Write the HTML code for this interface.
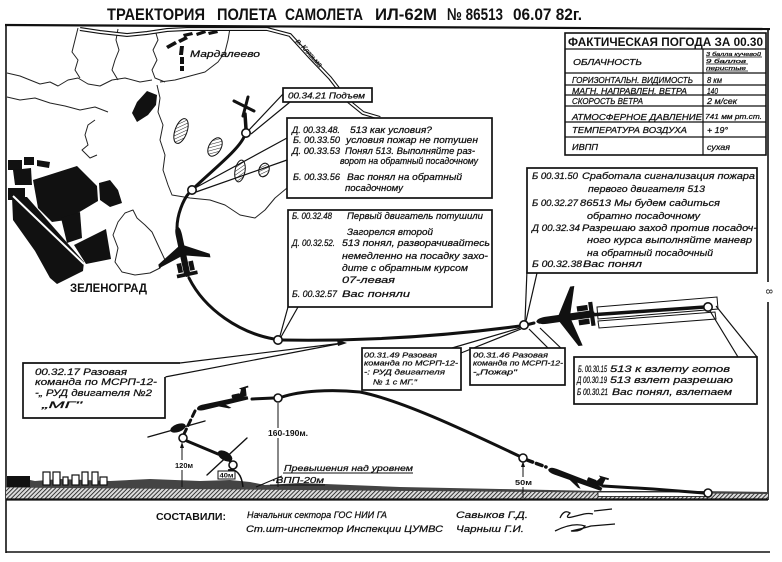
<!DOCTYPE html>
<html><head><meta charset="utf-8"><title>Траектория полета самолета ИЛ-62М</title>
<style>
html,body{margin:0;padding:0;background:#fff;width:782px;height:562px;overflow:hidden}
svg{display:block}
text{font-family:"Liberation Sans","DejaVu Sans",sans-serif;fill:#111}
.i{font-style:italic;stroke:#111;stroke-width:0.25}
.b{font-weight:bold}
</style></head><body>
<svg xmlns="http://www.w3.org/2000/svg" width="782" height="562" viewBox="0 0 782 562">
<defs>
<pattern id="hg" width="3" height="3" patternUnits="userSpaceOnUse" patternTransform="rotate(45)"><rect width="3" height="3" fill="#ddd"/><line x1="0" y1="0" x2="0" y2="3" stroke="#1a1a1a" stroke-width="1.7"/></pattern>
<pattern id="hs" width="3" height="3" patternUnits="userSpaceOnUse" patternTransform="rotate(45)"><rect width="3" height="3" fill="#fff"/><line x1="0" y1="0" x2="0" y2="3" stroke="#222" stroke-width="1"/></pattern>
<g id="ptop" fill="#111">
 <path d="M0,-25 C2.5,-24 3,-20 3,-16 L3,20 L1.5,24 L-1.5,24 L-3,20 L-3,-16 C-3,-20 -2.5,-24 0,-25Z"/>
 <path d="M-2.5,-6 L-25,7 L-25,10.5 L-2.5,4 L2.5,4 L25,10.5 L25,7 L2.5,-6Z"/>
 <rect x="-8" y="10" width="4.5" height="9"/><rect x="3.5" y="10" width="4.5" height="9"/>
 <path d="M-10,20 L10,20 L10,23.5 L-10,23.5Z"/>
</g>
<g id="pside" fill="#111">
 <path d="M-30,0 C-29,-3 -26,-3.5 -22,-3.5 L24,-3.5 L30,-2 L30,1.5 L-22,3 C-27,3 -30,2 -30,0Z"/>
 <path d="M20,-3 L25,-13 L30,-13 L29,-3Z"/>
 <path d="M22,-13 L33,-14 L33,-12 L24,-11.5Z"/>
 <rect x="12" y="-7.5" width="10" height="4.5" rx="1.5"/>
 <path d="M-6,2 L6,7 L9,7 L2,1Z"/>
</g>
</defs>
<rect width="782" height="562" fill="#fff"/>

<!-- Title -->
<g class="b" font-size="17">
<text x="107" y="20" textLength="98" lengthAdjust="spacingAndGlyphs">ТРАЕКТОРИЯ</text>
<text x="217" y="20" textLength="60" lengthAdjust="spacingAndGlyphs">ПОЛЕТА</text>
<text x="285" y="20" textLength="78" lengthAdjust="spacingAndGlyphs">САМОЛЕТА</text>
<text x="375" y="20" textLength="62" lengthAdjust="spacingAndGlyphs">ИЛ-62М</text>
<text x="447" y="20" textLength="56" lengthAdjust="spacingAndGlyphs">№ 86513</text>
<text x="513" y="20" textLength="69" lengthAdjust="spacingAndGlyphs">06.07 82г.</text>
</g>

<!-- Frame -->
<g stroke="#111" fill="none">
<line x1="5" y1="25" x2="770" y2="29" stroke-width="2.2"/>
<line x1="6" y1="25" x2="6" y2="553" stroke-width="1.6"/>
<line x1="768" y1="29" x2="768" y2="282" stroke-width="1.6"/>
<line x1="768" y1="302" x2="768" y2="500" stroke-width="1.6"/>
<line x1="6" y1="552" x2="770" y2="552" stroke-width="1.6"/>
</g>
<text x="760" y="289" font-size="9" transform="rotate(90 763 292)">8</text>

<!-- Map boundaries -->
<g stroke="#222" stroke-width="1" fill="none" stroke-linejoin="round">
<polyline points="78,28 75,40 72,52 78,60 75,70 80,78"/>
<polyline points="7,73 20,76 30,80 40,84 50,82 58,86 68,80 78,78 88,84 100,86 112,80 125,78 140,82 152,80"/>
<polyline points="118,29 116,40 119,50 115,60 112,70 118,80"/>
<polyline points="155,30 158,40 153,50 157,60 152,70 155,78 165,82"/>
<polyline points="230,28 228,40 225,52 218,62 205,72 190,76 175,80 160,82"/>
<polyline points="7,97 20,100 35,98 50,103 65,106 80,110 95,107 108,112"/>
<polyline points="95,120 88,125 85,135 88,145 82,150 90,158 97,155"/>
<polyline points="157,85 160,98 158,112 163,125 160,140 165,155 163,170 168,185 172,195 190,198 210,200 225,205 240,215 255,218 265,210 275,198 287,188"/>
<polygon points="125,213 133,210 137,218 145,225 152,232 158,245 165,260 160,268 150,273 135,275 122,272 115,262 118,248 113,235 118,222"/>
</g>

<!-- River -->
<path d="M80,29 L100,32 L127,35 L147,33 L167,30 L187,29 L233,29 L267,29 L290,35 L310,57 L330,78 L347,100 L363,113 L380,118" fill="none" stroke="#111" stroke-width="4"/>
<path d="M80,29 L100,32 L127,35 L147,33 L167,30 L187,29 L233,29 L267,29 L290,35 L310,57 L330,78 L347,100 L363,113 L380,118" fill="none" stroke="#fff" stroke-width="1.8"/>
<text class="i" x="285" y="50" font-size="7" transform="rotate(48 300 58)">р. Клязьма</text>

<!-- Mardalevo -->
<g fill="#111">
<polygon points="166,46 175,41 177,44 168,49"/>
<polygon points="178,40 186,36 188,39 180,43"/>
<polygon points="183,34 192,32 193,35 184,37"/>
<polygon points="196,33 205,30 206,33 197,36"/>
<polygon points="208,32 217,30 218,33 209,35"/>
<polygon points="180,46 184,46 183,55 179,55"/>
<polygon points="180,57 184,57 184,64 180,64"/>
<polygon points="180,66 184,66 184,71 180,71"/>
<polygon points="147,91 157,95 156,105 148,115 137,122 132,113 137,102"/>
</g>
<text class="i" x="190" y="57" font-size="9" textLength="70" lengthAdjust="spacingAndGlyphs">Мардалеево</text>

<!-- hatched lakes -->
<g stroke="#111" stroke-width="1" fill="url(#hs)">
<ellipse cx="181" cy="131" rx="6" ry="13" transform="rotate(20 181 131)"/>
<ellipse cx="215" cy="147" rx="6" ry="10" transform="rotate(30 215 147)"/>
<ellipse cx="240" cy="171" rx="5" ry="11" transform="rotate(10 240 171)"/>
<ellipse cx="264" cy="170" rx="5" ry="7" transform="rotate(20 264 170)"/>
</g>

<!-- Zelenograd -->
<g fill="#111">
<polygon points="8,160 22,160 22,170 8,170"/>
<polygon points="24,157 34,157 34,165 24,165"/>
<polygon points="37,160 50,162 49,168 37,166"/>
<polygon points="13,170 31,168 32,185 15,185"/>
<polygon points="8,188 25,188 25,200 8,200"/>
<polygon points="33,180 77,166 97,186 98,201 66,220 52,222 38,208"/>
<polygon points="99,183 110,180 118,190 122,203 110,207 100,200"/>
<polygon points="12,197 27,197 84,262 83,271 57,284 50,278 35,251 13,220"/>
<polygon points="61,218 80,212 82,238 67,243"/>
<polygon points="74,245 106,229 111,259 86,264"/>
</g>
<line x1="13" y1="196" x2="84" y2="264" stroke="#fff" stroke-width="2"/>
<text class="b" x="70" y="292" font-size="12" textLength="77" lengthAdjust="spacingAndGlyphs">ЗЕЛЕНОГРАД</text>

<!-- Runway plan -->
<g stroke="#111" stroke-width="1" fill="#fff">
<polygon points="597,307 717,297 718,309 598,319"/>
<polygon points="598,321 715,312 716,319 599,328"/>
</g>

<!-- Plan path -->
<g stroke="#111" fill="none" stroke-linecap="round">
<line x1="560" y1="317" x2="705" y2="307" stroke-width="3.5"/>
<line x1="534" y1="323" x2="528" y2="324.5" stroke-width="3"/>
<path d="M520,326 Q400,342 282,340" stroke-width="3"/>
<path d="M274,339 C240,333 205,310 189,278" stroke-width="3"/>
<path d="M177,228 C177,215 183,200 189,193" stroke-width="3"/>
<path d="M195,187 C215,168 238,150 244,137" stroke-width="3"/>
<line x1="246" y1="129" x2="245" y2="114" stroke-width="3.5"/>
<line x1="234" y1="101" x2="254" y2="111" stroke-width="3"/>
<line x1="248" y1="97" x2="243" y2="116" stroke-width="3"/>
</g>
<use href="#ptop" transform="translate(182.5,252) rotate(-12) scale(1.05)"/>
<use href="#ptop" transform="translate(566,317.5) rotate(-98) scale(1.2)"/>

<!-- pointer lines -->
<g stroke="#111" stroke-width="1.2" fill="none">
<line x1="249" y1="130" x2="283" y2="94"/>
<line x1="251" y1="134" x2="290" y2="102"/>
<line x1="195" y1="188" x2="287" y2="138"/>
<line x1="196" y1="192" x2="287" y2="160"/>
<line x1="280" y1="336" x2="288" y2="307"/>
<line x1="281" y1="337" x2="298" y2="307"/>
<line x1="527" y1="270" x2="525" y2="321"/>
<line x1="537" y1="273" x2="526" y2="321"/>
<line x1="452" y1="348" x2="520" y2="328"/>
<line x1="461" y1="353" x2="521" y2="329"/>
<line x1="548" y1="348" x2="529" y2="329"/>
<line x1="565" y1="352" x2="540" y2="328"/>
<line x1="710" y1="311" x2="738" y2="357"/>
<line x1="716" y1="306" x2="757" y2="357"/>
<line x1="180" y1="363" x2="343" y2="343"/>
<line x1="165" y1="377" x2="343" y2="343"/>
</g>
<polygon points="347,343 337,339.5 338,346" fill="#111"/>

<!-- circles plan -->
<g fill="#fff" stroke="#111" stroke-width="1.6">
<circle cx="708" cy="307" r="4.2"/>
<circle cx="524" cy="325" r="4.2"/>
<circle cx="278" cy="340" r="4.2"/>
<circle cx="192" cy="190" r="4.2"/>
<circle cx="246" cy="133" r="4.2"/>
</g>

<!-- Weather table -->
<g stroke="#111" fill="none">
<rect x="565" y="33" width="201" height="122" fill="#fff" stroke-width="1.6"/>
<g stroke-width="1.2">
<line x1="565" y1="49" x2="766" y2="49"/>
<line x1="565" y1="73" x2="766" y2="73"/>
<line x1="565" y1="85" x2="766" y2="85"/>
<line x1="565" y1="95" x2="766" y2="95"/>
<line x1="565" y1="106" x2="766" y2="106"/>
<line x1="565" y1="122" x2="766" y2="122"/>
<line x1="565" y1="137" x2="766" y2="137"/>
<line x1="703" y1="49" x2="703" y2="155"/>
<line x1="706" y1="57" x2="762" y2="57" stroke-width="0.7"/>
<line x1="706" y1="64" x2="748" y2="64" stroke-width="0.7"/>
<line x1="706" y1="71" x2="748" y2="71" stroke-width="0.7"/>
</g>
</g>
<text class="b" x="568" y="46" font-size="11.5" textLength="195" lengthAdjust="spacingAndGlyphs">ФАКТИЧЕСКАЯ ПОГОДА ЗА 00.30</text>
<g class="i" font-size="8.5">
<text x="573" y="65" textLength="69" lengthAdjust="spacingAndGlyphs">ОБЛАЧНОСТЬ</text>
<text x="572" y="83" textLength="121" lengthAdjust="spacingAndGlyphs">ГОРИЗОНТАЛЬН. ВИДИМОСТЬ</text>
<text x="707" y="83" textLength="15" lengthAdjust="spacingAndGlyphs">8 км</text>
<text x="572" y="94" textLength="115" lengthAdjust="spacingAndGlyphs">МАГН. НАПРАВЛЕН. ВЕТРА</text>
<text x="707" y="94" textLength="11" lengthAdjust="spacingAndGlyphs">140</text>
<text x="572" y="104" textLength="71" lengthAdjust="spacingAndGlyphs">СКОРОСТЬ ВЕТРА</text>
<text x="707" y="104" textLength="30" lengthAdjust="spacingAndGlyphs">2 м/сек</text>
<text x="572" y="120" textLength="130" lengthAdjust="spacingAndGlyphs">АТМОСФЕРНОЕ ДАВЛЕНИЕ</text>
<text x="705" y="119" font-size="7" textLength="57" lengthAdjust="spacingAndGlyphs">741 мм рт.ст.</text>
<text x="572" y="133" textLength="115" lengthAdjust="spacingAndGlyphs">ТЕМПЕРАТУРА ВОЗДУХА</text>
<text x="707" y="133" textLength="21" lengthAdjust="spacingAndGlyphs">+ 19°</text>
<text x="572" y="150" textLength="26" lengthAdjust="spacingAndGlyphs">ИВПП</text>
<text x="707" y="150" textLength="23" lengthAdjust="spacingAndGlyphs">сухая</text>
<text x="706" y="56" font-size="5.5" textLength="55" lengthAdjust="spacingAndGlyphs">3 балла кучевой</text>
<text x="706" y="63" font-size="5.5" textLength="40" lengthAdjust="spacingAndGlyphs">9 баллов</text>
<text x="706" y="70" font-size="5.5" textLength="40" lengthAdjust="spacingAndGlyphs">перистые</text>
</g>

<!-- Boxes -->
<g fill="#fff" stroke="#111" stroke-width="1.7">
<rect x="283" y="88" width="89" height="14"/>
<rect x="287" y="118" width="205" height="80"/>
<rect x="288" y="210" width="204" height="97"/>
<rect x="527" y="168" width="230" height="105"/>
<rect x="362" y="348" width="99" height="42"/>
<rect x="470" y="348" width="95" height="37"/>
<rect x="574" y="357" width="183" height="47"/>
<path d="M180,363 L23,363 L23,418 L165,418 L165,377"/>
</g>

<g class="i">
<text x="288" y="98.5" font-size="8" textLength="77" lengthAdjust="spacingAndGlyphs">00.34.21 Подъем</text>

<g font-size="9">
<text x="292" y="133" textLength="48" lengthAdjust="spacingAndGlyphs">Д. 00.33.48.</text>
<text x="350" y="133" textLength="82" lengthAdjust="spacingAndGlyphs">513 как условия?</text>
<text x="293" y="143" textLength="47" lengthAdjust="spacingAndGlyphs">Б. 00.33.50</text>
<text x="346" y="143" textLength="132" lengthAdjust="spacingAndGlyphs">условия пожар не потушен</text>
<text x="292" y="154" textLength="48" lengthAdjust="spacingAndGlyphs">Д. 00.33.53</text>
<text x="345" y="154" textLength="130" lengthAdjust="spacingAndGlyphs">Понял 513. Выполняйте раз-</text>
<text x="340" y="164" textLength="138" lengthAdjust="spacingAndGlyphs">ворот на обратный посадочному</text>
<text x="293" y="180" textLength="47" lengthAdjust="spacingAndGlyphs">Б. 00.33.56</text>
<text x="347" y="180" textLength="115" lengthAdjust="spacingAndGlyphs">Вас понял на обратный</text>
<text x="345" y="191" textLength="58" lengthAdjust="spacingAndGlyphs">посадочному</text>
</g>

<g font-size="9.5">
<text x="292" y="219" textLength="40" lengthAdjust="spacingAndGlyphs">Б. 00.32.48</text>
<text x="347" y="219" textLength="136" lengthAdjust="spacingAndGlyphs">Первый двигатель потушили</text>
<text x="347" y="235" textLength="86" lengthAdjust="spacingAndGlyphs">Загорелся второй</text>
<text x="292" y="246" textLength="43" lengthAdjust="spacingAndGlyphs">Д. 00.32.52.</text>
<text x="342" y="246" textLength="148" lengthAdjust="spacingAndGlyphs">513 понял, разворачивайтесь</text>
<text x="342" y="259" textLength="146" lengthAdjust="spacingAndGlyphs">немедленно на посадку захо-</text>
<text x="342" y="271" textLength="126" lengthAdjust="spacingAndGlyphs">дите с обратным курсом</text>
<text x="342" y="283" textLength="53" lengthAdjust="spacingAndGlyphs">07-левая</text>
<text x="292" y="297" textLength="45" lengthAdjust="spacingAndGlyphs">Б. 00.32.57</text>
<text x="342" y="297" textLength="68" lengthAdjust="spacingAndGlyphs">Вас поняли</text>
</g>

<g font-size="9.5">
<text x="532" y="179" textLength="46" lengthAdjust="spacingAndGlyphs">Б 00.31.50</text>
<text x="582" y="179" textLength="173" lengthAdjust="spacingAndGlyphs">Сработала сигнализация пожара</text>
<text x="588" y="192" textLength="117" lengthAdjust="spacingAndGlyphs">первого двигателя 513</text>
<text x="532" y="206" textLength="46" lengthAdjust="spacingAndGlyphs">Б 00.32.27</text>
<text x="580" y="206" textLength="140" lengthAdjust="spacingAndGlyphs">86513 Мы будем садиться</text>
<text x="587" y="219" textLength="113" lengthAdjust="spacingAndGlyphs">обратно посадочному</text>
<text x="532" y="231" textLength="48" lengthAdjust="spacingAndGlyphs">Д 00.32.34</text>
<text x="582" y="231" textLength="175" lengthAdjust="spacingAndGlyphs">Разрешаю заход против посадоч-</text>
<text x="587" y="243" textLength="165" lengthAdjust="spacingAndGlyphs">ного курса выполняйте маневр</text>
<text x="587" y="256" textLength="126" lengthAdjust="spacingAndGlyphs">на обратный посадочный</text>
<text x="532" y="267" textLength="50" lengthAdjust="spacingAndGlyphs">Б 00.32.38</text>
<text x="583" y="267" textLength="59" lengthAdjust="spacingAndGlyphs">Вас понял</text>
</g>

<g font-size="9">
<text x="578" y="372" textLength="29" lengthAdjust="spacingAndGlyphs">Б. 00.30.15</text>
<text x="610" y="372" textLength="120" lengthAdjust="spacingAndGlyphs">513 к взлету готов</text>
<text x="577" y="383" textLength="30" lengthAdjust="spacingAndGlyphs">Д 00.30.19</text>
<text x="610" y="383" textLength="123" lengthAdjust="spacingAndGlyphs">513 взлет разрешаю</text>
<text x="577" y="395" textLength="31" lengthAdjust="spacingAndGlyphs">Б 00.30.21</text>
<text x="612" y="395" textLength="120" lengthAdjust="spacingAndGlyphs">Вас понял, взлетаем</text>
</g>

<g font-size="7.5">
<text x="364" y="357.5" textLength="73" lengthAdjust="spacingAndGlyphs">00.31.49  Разовая</text>
<text x="364" y="365.5" textLength="94" lengthAdjust="spacingAndGlyphs">команда по МСРП-12-</text>
<text x="364" y="374.5" textLength="81" lengthAdjust="spacingAndGlyphs">-: РУД двигателя</text>
<text x="373" y="384.5" textLength="44" lengthAdjust="spacingAndGlyphs">№ 1 с МГ."</text>
<text x="473" y="357.5" textLength="75" lengthAdjust="spacingAndGlyphs">00.31.46  Разовая</text>
<text x="473" y="365.5" textLength="90" lengthAdjust="spacingAndGlyphs">команда по МСРП-12-</text>
<text x="473" y="374.5" textLength="44" lengthAdjust="spacingAndGlyphs">-„Пожар"</text>
</g>

<g font-size="9.5">
<text x="35" y="375" textLength="92" lengthAdjust="spacingAndGlyphs">00.32.17  Разовая</text>
<text x="35" y="385" textLength="122" lengthAdjust="spacingAndGlyphs">команда по МСРП-12-</text>
<text x="35" y="396" textLength="117" lengthAdjust="spacingAndGlyphs">-„ РУД двигателя №2</text>
<text x="42" y="408" textLength="40" lengthAdjust="spacingAndGlyphs">„МГ"</text>
</g>
</g>

<!-- Ground profile -->
<polygon points="6,486 768,493 768,499 6,499" fill="url(#hg)"/>
<path d="M6,480 L20,478 L35,481 L60,479 L110,481 L150,479 L200,481 L230,480 L250,482 L265,485 L300,483 L350,485 L400,487 L450,488 L500,489 L550,490 L600,491 L700,491 L768,492 L768,494 L6,487.5 Z" fill="#444"/>
<rect x="598" y="492" width="112" height="4.5" fill="#fff" stroke="#111" stroke-width="0.8"/>
<line x1="6" y1="499.5" x2="768" y2="499.5" stroke="#111" stroke-width="2.2"/>
<rect x="7" y="476" width="23" height="11" fill="#111"/>
<g fill="#fff" stroke="#111" stroke-width="1.2">
<rect x="43" y="472" width="7" height="13"/>
<rect x="53" y="472" width="7" height="13"/>
<rect x="63" y="477" width="5" height="8"/>
<rect x="72" y="475" width="7" height="10"/>
<rect x="82" y="472" width="6" height="13"/>
<rect x="92" y="472" width="6" height="13"/>
<rect x="100" y="477" width="7" height="8"/>
</g>
<path d="M228,470 Q241,468 243,487" fill="none" stroke="#111" stroke-width="1.5"/>

<!-- Profile path -->
<g stroke="#111" fill="none" stroke-linecap="round">
<path d="M282,397 C300,391 330,389 360,392 C400,400 460,428 519,456" stroke-width="3"/>
<line x1="252" y1="399" x2="274" y2="398" stroke-width="3"/>
<line x1="527" y1="460" x2="546" y2="467" stroke-width="3.5" stroke-dasharray="6 4"/>
<path d="M603,486 L653,489 L704,493" stroke-width="3"/>
<line x1="195" y1="411" x2="184" y2="434" stroke-width="3" stroke-dasharray="6 4"/>
<line x1="187" y1="441" x2="218" y2="454" stroke-width="3"/>
<line x1="228" y1="458" x2="231" y2="462" stroke-width="3"/>
<line x1="148" y1="437" x2="205" y2="421" stroke-width="1.4"/>
<line x1="207" y1="475" x2="247" y2="438" stroke-width="1.4"/>
</g>
<ellipse cx="178" cy="428" rx="8" ry="4" transform="rotate(-20 178 428)" fill="#111"/>
<ellipse cx="225" cy="456" rx="8" ry="4.5" transform="rotate(30 225 456)" fill="#111"/>
<use href="#pside" transform="translate(575,479.5) rotate(21) scale(0.95)"/>
<use href="#pside" transform="translate(222.5,403.5) rotate(-12) scale(0.87)"/>

<!-- altitude lines -->
<g stroke="#111" stroke-width="1">
<line x1="182" y1="444" x2="182" y2="460"/><line x1="182" y1="470" x2="182" y2="487"/>
<line x1="278" y1="403" x2="278" y2="428"/><line x1="278" y1="438" x2="278" y2="487"/>
<line x1="523" y1="463" x2="523" y2="477"/><line x1="523" y1="487" x2="523" y2="498"/>
<line x1="282" y1="476" x2="256" y2="487"/>
<line x1="283" y1="473" x2="413" y2="473"/>
<line x1="270" y1="485" x2="325" y2="485"/>
</g>
<g fill="#111">
<polygon points="182,442 180,448 184,448"/>
<polygon points="523,461 521,467 525,467"/>
</g>
<g fill="#fff" stroke="#111" stroke-width="1.6">
<circle cx="708" cy="493" r="4"/>
<circle cx="523" cy="458" r="4"/>
<circle cx="278" cy="398" r="4"/>
<circle cx="183" cy="438" r="4"/>
<circle cx="233" cy="465" r="4"/>
</g>
<rect x="218" y="471" width="17" height="8" fill="#fff" stroke="#111" stroke-width="1"/>
<g class="b">
<text x="219.5" y="477.5" font-size="6" textLength="14" lengthAdjust="spacingAndGlyphs">40м</text>
<text x="175" y="468" font-size="7.5" textLength="18" lengthAdjust="spacingAndGlyphs">120м</text>
<text x="268" y="436" font-size="8" textLength="40" lengthAdjust="spacingAndGlyphs">160-190м.</text>
<text x="515" y="485" font-size="7.5" textLength="17" lengthAdjust="spacingAndGlyphs">50м</text>
</g>
<g class="i" font-size="8.5">
<text x="284" y="471" textLength="129" lengthAdjust="spacingAndGlyphs">Превышения над уровнем</text>
<text x="272" y="483" textLength="52" lengthAdjust="spacingAndGlyphs">·ВПП-20м</text>
</g>

<!-- Signatures -->
<text class="b" x="156" y="520" font-size="10.5" textLength="70" lengthAdjust="spacingAndGlyphs">СОСТАВИЛИ:</text>
<g class="i" font-size="9.5">
<text x="247" y="518" textLength="140" lengthAdjust="spacingAndGlyphs">Начальник сектора ГОС НИИ ГА</text>
<text x="246" y="532" textLength="197" lengthAdjust="spacingAndGlyphs">Ст.шт-инспектор Инспекции ЦУМВС</text>
<text x="456" y="518" textLength="72" lengthAdjust="spacingAndGlyphs">Савыков Г.Д.</text>
<text x="456" y="532" textLength="68" lengthAdjust="spacingAndGlyphs">Чарныш Г.И.</text>
</g>
<g fill="none" stroke="#111" stroke-width="1.3">
<path d="M560,518 q4,-9 10,-5 q-6,6 2,4 l12,-3 q5,-1 9,0 M594,511 l18,-2"/>
<path d="M555,531 q18,-9 30,-5 q-4,6 -14,5 q10,-2 20,-5 l24,-2"/>
</g>
</svg>
</body></html>
